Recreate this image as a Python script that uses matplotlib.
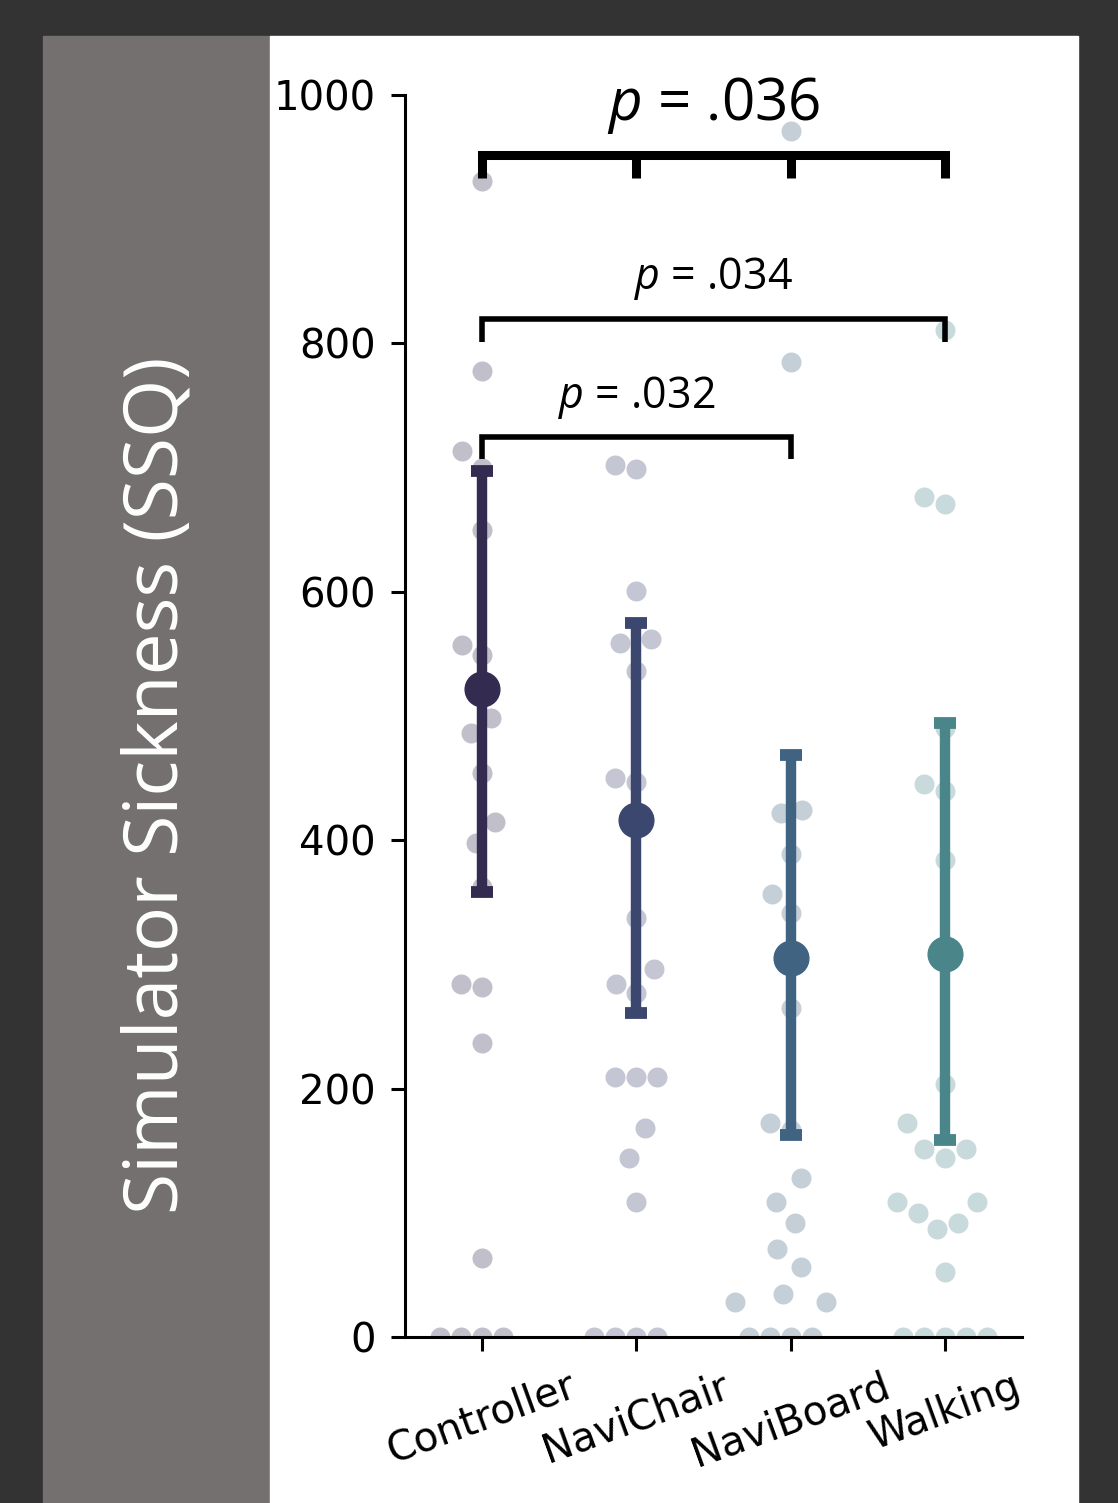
import numpy as np
import matplotlib
matplotlib.use('Agg')
import matplotlib.pyplot as plt
from matplotlib.patches import Rectangle

# individual SSQ scores
conditions = ['Controller', 'NaviChair', 'NaviBoard', 'Walking']
controller = [931, 778, 713, 700, 650, 557, 549, 498, 486, 454, 415, 398,
              362, 284, 282, 237, 64, 0, 0, 0, 0]
navichair = [702, 699, 601, 562, 559, 536, 450, 447, 337, 296, 284, 277,
             209, 209, 209, 168, 144, 109, 0, 0, 0, 0]
naviboard = [971, 785, 424, 422, 389, 357, 341, 265, 172, 167, 128, 109,
             92, 71, 56, 35, 28, 28, 0, 0, 0, 0]
walking = [811, 676, 671, 490, 445, 440, 384, 204, 172, 151, 151, 144,
           109, 109, 100, 92, 87, 52, 0, 0, 0, 0, 0]

# point estimates and interval ends
means = [522, 416, 305, 308]
ci_low = [358, 261, 163, 159]
ci_high = [697, 575, 469, 494]

# pairwise tests: first group, last group, p value
comp_first = [0, 0, 0]
comp_last = [3, 3, 2]
comp_p = ['.036', '.034', '.032']

colors = ['#342c50', '#3c476f', '#3f6380', '#4a8589']

W, H = 1118, 1503
AX_W, AX_H = 617, 1242      # axes size in px
DOT = 14.4                  # dot diameter in points

plt.rcParams['mathtext.fontset'] = 'custom'
plt.rcParams['mathtext.it'] = 'Open Sans:italic'
plt.rcParams['mathtext.rm'] = 'Open Sans'


def swarm_offsets(values, r, yscale):
    '''beeswarm layout in pixel space, returns x offsets in px'''
    vals = np.asarray(values, dtype=float)
    order = np.argsort(vals, kind='stable')
    placed = []
    for y in vals[order] * yscale:
        neighbors = []
        for xj, yj in reversed(placed):
            if y - yj < 2 * r:
                neighbors.append((xj, yj))
            else:
                break
        if not neighbors:
            placed.append((0.0, y))
            continue
        cands = [0.0]
        left = True
        for xj, yj in neighbors:
            dx = np.sqrt(max(4 * r * r - (y - yj) ** 2, 0)) * 1.05
            cands.extend([xj - dx, xj + dx] if left else [xj + dx, xj - dx])
            left = not left
        cands = np.array(cands)
        cands = cands[np.lexsort((cands, np.round(np.abs(cands), 6)))]
        pick = cands[-1]
        for c in cands:
            if all((xj - c) ** 2 + (yj - y) ** 2 >= 4 * r * r - 1e-6
                   for xj, yj in neighbors):
                pick = c
                break
        placed.append((pick, y))
    offs = np.empty(len(vals))
    offs[order] = [p[0] for p in placed]
    return offs


def bracket(ax, x0, x1, y, depth, lw, inner=False):
    xs = [x0, x0, x1, x1]
    ys = [y - depth, y, y, y - depth]
    ax.plot(xs, ys, color='black', lw=lw, clip_on=False, zorder=5,
            solid_joinstyle='miter', solid_capstyle='butt')
    if inner:
        for xi in range(x0 + 1, x1):
            ax.plot([xi, xi], [y, y - depth], color='black', lw=lw,
                    clip_on=False, zorder=5, solid_capstyle='butt')


def main():
    fig = plt.figure(figsize=(W / 100, H / 100), dpi=100, facecolor='#333333')
    fig.patches.append(Rectangle((43 / W, 0), 227 / W, 1467 / H,
                                 transform=fig.transFigure,
                                 color='#747070', zorder=-10))
    fig.patches.append(Rectangle((270 / W, 0), 808 / W, 1467 / H,
                                 transform=fig.transFigure,
                                 color='white', zorder=-10))

    ax = fig.add_axes([405 / W, 166 / H, AX_W / W, AX_H / H])
    ax.set_facecolor('none')
    ax.set_zorder(5)

    groups = [controller, navichair, naviboard, walking]
    r = DOT / 2 * 100 / 72
    px_per_cat = AX_W / len(conditions)
    # the swarm was packed with a squashed y scale
    yscale = AX_H / 1000 * 0.43
    for i, g in enumerate(groups):
        offs = swarm_offsets(g, r, yscale)
        ax.scatter(i + offs / px_per_cat, g, s=DOT ** 2, color=colors[i],
                   alpha=0.3, linewidths=0, zorder=1)

    for i in range(len(conditions)):
        yerr = [[means[i] - ci_low[i]], [ci_high[i] - means[i]]]
        ax.errorbar(i, means[i], yerr=yerr, fmt='o', color=colors[i],
                    ms=25, elinewidth=7.5, capsize=8, capthick=8.5, zorder=3)

    # significance brackets
    bracket(ax, comp_first[0], comp_last[0], 952, 19, 6.5, inner=True)
    bracket(ax, comp_first[1], comp_last[1], 820, 19, 4)
    bracket(ax, comp_first[2], comp_last[2], 725, 18, 4)
    ax.text((comp_first[0] + comp_last[0]) / 2, 980, '$p$ = ' + comp_p[0],
            ha='center', va='baseline', fontsize=42, family='Open Sans')
    ax.text((comp_first[1] + comp_last[1]) / 2, 844, '$p$ = ' + comp_p[1],
            ha='center', va='baseline', fontsize=31, family='Open Sans')
    ax.text((comp_first[2] + comp_last[2]) / 2, 748, '$p$ = ' + comp_p[2],
            ha='center', va='baseline', fontsize=31, family='Open Sans')

    ax.set_xlim(-0.5, 3.5)
    ax.set_ylim(0, 1000)
    ax.set_yticks(range(0, 1001, 200))
    ax.set_xticks(range(len(conditions)))
    ax.set_xticklabels(conditions, rotation=20, ha='center')
    ax.tick_params(labelsize=29, length=10, width=2.2, pad=11)
    for s in ['top', 'right']:
        ax.spines[s].set_visible(False)
    for s in ['left', 'bottom']:
        ax.spines[s].set_linewidth(2.2)

    fig.text(158 / W, 1 - 785 / H, 'Simulator Sickness (SSQ)', rotation=90,
             color='white', fontsize=54, family='Open Sans',
             ha='center', va='center')

    fig.savefig('out.png', dpi=100, facecolor=fig.get_facecolor())


if __name__ == '__main__':
    main()
